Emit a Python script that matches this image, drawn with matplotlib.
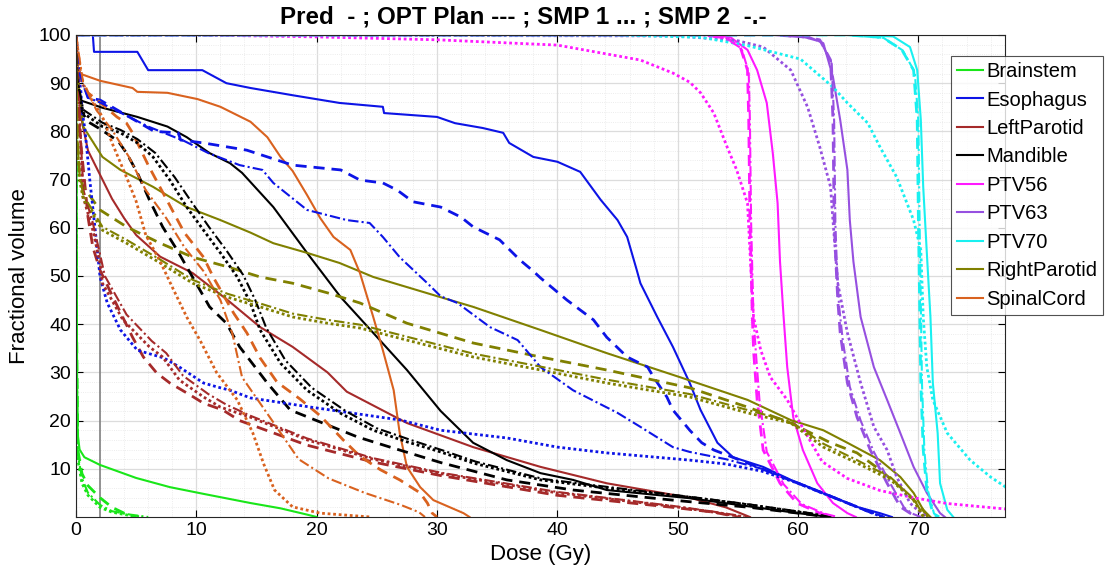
import matplotlib
matplotlib.use("Agg")
import matplotlib.pyplot as plt
from matplotlib.ticker import MultipleLocator

plt.rcParams['font.family'] = ['Liberation Sans', 'DejaVu Sans']

# DVH points (dose Gy, fractional volume %)
# Pred = solid, OPT = dashed, SMP1 = dotted, SMP2 = dash-dot
brainstem_pred = [(0, 100), (0.05, 60), (0.1, 25), (0.15, 17), (0.3, 14), (0.7, 12.4), (2, 10.8), (5, 8.1),
                  (7.8, 6.2), (10.6, 4.8), (14.5, 2.9), (17, 1.8), (19.2, 0.5), (20, 0)]
brainstem_opt = [(0, 100), (0.05, 40), (0.15, 14), (0.5, 9), (1, 6.5), (2, 4), (3, 2), (4, 0.8), (5, 0)]
brainstem_smp1 = [(0, 100), (0.05, 30), (0.15, 12), (0.5, 7), (1, 4.5), (2, 2), (3, 1), (4.5, 0.3), (5.5, 0)]
brainstem_smp2 = [(0, 100), (0.05, 35), (0.15, 13), (0.5, 8), (1, 5), (2, 2.5), (3, 1.2), (4.5, 0.5), (6, 0)]

esophagus_pred = [(1.4, 100), (1.5, 96.5), (5.1, 96.5), (6, 92.7), (10.5, 92.7), (12.5, 90), (14.5, 89),
                  (18, 87.5), (21.9, 85.9), (25.5, 85.1), (25.6, 83.8), (30, 83), (31.5, 81.7), (33.8, 80.7),
                  (35.5, 79.7), (36, 77.6), (38, 74.7), (40, 73.7), (41.9, 71.6), (43.6, 65.8), (45, 61.6),
                  (45.8, 58.1), (46.6, 51.2), (46.9, 48.5), (48.3, 41.5), (49.6, 35.3), (51, 27.8), (51.9, 22.2),
                  (53.3, 15.4), (54.6, 12.4), (57.1, 10.4), (59.4, 7.7), (62.1, 5), (64.9, 2.1), (66.8, 0.8),
                  (67.8, 0)]
esophagus_opt = [(0, 100), (0.3, 92), (1, 87), (2, 86.5), (6.5, 80), (8.5, 79.7), (8.7, 78.2), (10.6, 77.6),
                 (14.2, 76.1), (18, 73), (22, 72), (23.6, 69.9), (25.5, 69.3), (26.7, 67.8), (28, 65.4),
                 (30.3, 64.3), (32, 62.2), (33, 60.2), (35.2, 57.5), (36.9, 53.3), (38, 51), (38.6, 49.6),
                 (40.8, 45), (43, 40.9), (44.1, 37.3), (45.8, 33.2), (47.5, 31.1), (48, 29), (49.1, 24.9),
                 (49.6, 22.2), (50.5, 19.5), (51, 18), (52, 15.4), (53, 13.9), (55.8, 11.2), (58, 9), (61, 6),
                 (64, 3), (66, 1), (67, 0)]
esophagus_smp1 = [(0, 100), (0.2, 92), (0.4, 88.6), (0.5, 84.4), (0.75, 80.3), (1.15, 69.9), (1.6, 59.5),
                  (2, 49.8), (2.6, 44.4), (3.7, 38.8), (5.1, 34.6), (7.3, 33), (8.6, 31.1), (10.6, 27.8),
                  (11.7, 27), (12.8, 26.3), (14.5, 24.7), (19.5, 22.8), (27, 20.1), (30.3, 18), (35.8, 16.4),
                  (40, 14.5), (44.1, 13.3), (51, 11.8), (54, 11), (57, 9.5), (60, 7), (63, 4), (65.5, 1.5),
                  (67, 0)]
esophagus_smp2 = [(0, 100), (0.3, 92), (1, 87), (2, 86), (6, 81), (9, 78), (11, 75.5), (13.6, 73), (15.5, 72),
                  (16.4, 69.3), (19.2, 63.7), (22.5, 61.6), (24.4, 61), (25.5, 58.1), (26.9, 53.9), (29.2, 48.5),
                  (30.3, 45.8), (31.7, 44.4), (34.4, 39.4), (36.7, 36.7), (38.6, 31.1), (41.3, 26.3), (45, 21.6),
                  (46.9, 18.7), (49.6, 14.5), (51, 13.5), (54, 12), (57, 10), (60, 7), (63, 4), (65.5, 1.5),
                  (67.2, 0)]

leftparotid_pred = [(0, 100), (0.2, 90), (0.5, 82), (1, 76), (2, 71), (3, 66), (4, 62), (5, 58.5), (7, 54),
                    (9.7, 50.6), (12.6, 45), (15.3, 39.4), (18, 35.3), (20.9, 30), (22.5, 26), (27.5, 19.5),
                    (33, 14.5), (38.6, 10.4), (44.1, 7), (51, 4), (54, 2), (56, 0)]
leftparotid_opt = [(0, 100), (0.3, 80), (0.7, 70), (1, 62.2), (1.4, 56), (2, 51.2), (3, 46), (4.7, 37.3),
                   (5.6, 33.2), (6.7, 29.9), (7.8, 27.8), (9.5, 25.3), (10.6, 23.6), (12.2, 22.2), (13.6, 20),
                   (19.2, 14.9), (24.7, 11.4), (30.3, 8.6), (40, 4.5), (49.6, 2), (53, 1), (55, 0)]
leftparotid_smp1 = [(0, 100), (0.3, 82), (0.6, 66.4), (1.4, 59.5), (2, 52.7), (2.2, 48.5), (3.9, 40.9),
                    (6.1, 35.3), (7.2, 33.2), (8.6, 28.4), (10.6, 24.9), (12, 22.8), (14.5, 20.7), (19.2, 16),
                    (24.7, 12), (30.3, 9), (40, 5), (49.6, 2.2), (53, 1), (55.5, 0)]
leftparotid_smp2 = [(0, 100), (0.3, 84), (0.6, 68), (1.4, 61), (2, 54.5), (2.4, 50), (4.2, 42), (6.3, 36.5),
                    (7.5, 34), (8.9, 29.3), (11, 25.5), (12.5, 23.3), (14.5, 21), (19.2, 16.3), (24.7, 12.2),
                    (30.3, 9.2), (40, 5.2), (49.6, 2.3), (53, 1.1), (55.8, 0)]

mandible_pred = [(0, 100), (0.1, 92), (0.3, 86.5), (2.2, 84.9), (5.1, 83), (7.6, 81), (9.2, 78.8), (11.1, 75.5),
                 (12.8, 73.4), (13.8, 71.4), (16.4, 64.3), (19.2, 54.8), (22, 45.6), (24.7, 38.2), (27.5, 30.5),
                 (30.3, 22), (33, 15.4), (35.8, 11.8), (38.6, 9.1), (41.3, 7.7), (44.1, 5.6), (51, 3.9),
                 (60, 0.8), (62.7, 0)]
mandible_opt = [(0, 100), (0.2, 90), (0.5, 84), (1, 82), (2, 80.5), (3.5, 78), (4.2, 75.5), (5.1, 71.4),
                (6.1, 65.8), (7.2, 60.2), (8.4, 55.4), (9.5, 50.6), (11.1, 43.6), (12.5, 40.2), (13.6, 35.3),
                (15.9, 27.8), (17.8, 22.2), (20.5, 19.5), (23.4, 16.6), (26.1, 14.5), (30.3, 11.3), (35.8, 7.7),
                (41.3, 5.6), (49.6, 3.5), (56, 2), (61, 0.5), (62.5, 0)]
mandible_smp1 = [(0, 100), (0.1, 90), (0.6, 83.8), (2.2, 81), (3.7, 79.7), (5.1, 77.6), (6.4, 74.7), (7.8, 69.9),
                 (9.2, 64.3), (10.6, 59.5), (12, 54.8), (13.4, 49.8), (14.5, 44.4), (15.3, 38.8), (17, 31.9),
                 (19.2, 26.3), (22, 21.5), (24.7, 18), (27.5, 15.6), (30.3, 13.5), (33, 11.2), (38.6, 7.7),
                 (44.1, 6), (51, 4.1), (56, 2.5), (61, 0.7), (62.5, 0)]
mandible_smp2 = [(0, 100), (0.1, 91), (0.6, 84.5), (2.2, 81.8), (3.7, 80.3), (5.1, 78.4), (6.6, 75.5), (8.2, 70.5),
                 (9.7, 65), (11.1, 60), (12.5, 55.3), (13.9, 50.2), (14.9, 45), (15.8, 39.3), (17.4, 32.5),
                 (19.6, 26.8), (22.4, 22), (25, 18.4), (27.8, 16), (30.5, 13.8), (33.2, 11.5), (38.8, 7.9),
                 (44.3, 6.2), (51, 4.2), (56, 2.6), (61, 0.8), (62.7, 0)]

ptv56_pred = [(0, 100), (53, 100), (54.4, 99.5), (55.8, 96.9), (56.6, 92.7), (57.4, 85.9), (57.9, 75.5),
              (58.3, 65.1), (58.5, 53), (58.8, 41.5), (59.1, 31.1), (59.6, 20.7), (60.4, 13.9), (61.6, 7),
              (62.9, 2.9), (64.1, 0.8), (64.8, 0)]
ptv56_opt = [(0, 100), (52, 100), (54, 99.5), (55.2, 97.5), (55.8, 92.7), (55.9, 82.4), (56, 61.6), (56.2, 41.5),
             (56.3, 34.6), (56.6, 24.3), (57.1, 13.9), (58.5, 7), (59.9, 2.9), (61.8, 0.8), (63, 0)]
ptv56_smp1 = [(0, 100), (10, 100), (20, 99.6), (30, 99), (40, 97.9), (46.9, 94.8), (49.6, 92.1), (51, 90.2),
              (51.9, 88), (53, 83.8), (54.1, 76.8), (54.9, 72), (55.8, 65.1), (56, 55.4), (56.3, 41.5),
              (56.9, 34.6), (57.7, 29), (59.1, 24.3), (60.5, 18), (62, 11.5), (64.1, 8), (66.8, 5.5),
              (69.6, 4), (72.4, 2.8), (77.5, 1.6)]
ptv56_smp2 = [(0, 100), (52, 100), (54, 99.3), (55.3, 97.2), (55.9, 92.3), (56, 82), (56.1, 61), (56.3, 41),
              (56.5, 34), (56.8, 24), (57.4, 13.5), (58.8, 6.8), (60.3, 2.7), (62.2, 0.7), (63.3, 0)]

ptv63_pred = [(0, 100), (59, 100), (60.8, 99.7), (62.1, 98.3), (62.9, 91.3), (63.5, 82.4), (64.1, 72),
              (64.3, 61.6), (64.6, 53), (65.2, 41.5), (66.3, 31.1), (67.4, 24.3), (68.5, 17.4), (69.6, 10.4),
              (70.7, 5), (71.8, 0.8), (72.2, 0)]
ptv63_opt = [(0, 100), (58, 100), (60.5, 99.6), (61.8, 99), (62.7, 94.8), (62.9, 82.4), (63, 61.6), (63.1, 55),
             (63.3, 45), (63.5, 38.2), (64.1, 27.8), (64.9, 20.7), (66, 13.9), (67.4, 7), (68.5, 2.1),
             (69.3, 0.8), (70, 0)]
ptv63_smp1 = [(0, 100), (50, 99.8), (55, 98.8), (57.1, 97.5), (59.4, 92.7), (60.8, 85), (61.8, 76.8),
              (62.7, 68.5), (62.9, 61.6), (63.3, 48.5), (64.1, 38.2), (65.2, 27.8), (66.3, 18.7), (67.4, 13.9),
              (68.2, 8.3), (69.3, 2.9), (70.2, 0.8), (70.8, 0)]
ptv63_smp2 = [(0, 100), (58, 100), (60.6, 99.5), (61.9, 98.6), (62.8, 94), (63, 82), (63.1, 61), (63.2, 54),
              (63.4, 44), (63.7, 37), (64.3, 27), (65.2, 20), (66.3, 13.5), (67.7, 6.8), (68.8, 2),
              (69.5, 0.7), (70.2, 0)]

ptv70_pred = [(0, 100), (65, 100), (67.9, 99.7), (69.3, 97.5), (69.9, 92.7), (70.2, 82.4), (70.4, 68.5),
              (70.7, 54.8), (71, 41.5), (71.2, 27.8), (71.6, 17.4), (71.8, 7), (72.4, 1.5), (72.9, 0)]
ptv70_opt = [(0, 100), (64, 100), (67, 99.5), (68.6, 97), (69.6, 92.7), (69.9, 82.4), (70, 61.6), (70.2, 27.8),
             (70.4, 13.9), (70.7, 5.6), (71.2, 0.8), (71.6, 0)]
ptv70_smp1 = [(0, 100), (45, 100), (52, 99.5), (55.8, 97.8), (60.2, 95), (62.9, 89.2), (64.1, 85.9),
              (65.8, 81.7), (66.8, 76.8), (68.2, 70.5), (69.6, 61.6), (70.2, 55.4), (70.4, 41.5), (70.7, 31.1),
              (71.2, 24.3), (72.4, 17.4), (74.3, 11.8), (76, 8.3), (77.5, 5.8)]
ptv70_smp2 = [(0, 100), (64, 100), (67.1, 99.4), (68.7, 96.8), (69.7, 92.3), (70, 82), (70.1, 61), (70.3, 27.5),
              (70.5, 13.6), (70.8, 5.4), (71.3, 0.7), (71.8, 0)]

rightparotid_pred = [(0, 100), (0.2, 90), (0.6, 81), (2.2, 74.7), (3.7, 72), (6.4, 68.5), (9.2, 64.3),
                     (12, 61.6), (14.5, 59), (16.4, 56.8), (19.2, 54.8), (21.9, 52.7), (24.7, 49.8), (27.5, 47.7),
                     (30.3, 45.6), (33, 43.6), (38.6, 38.8), (44.1, 34), (50.2, 29), (55.8, 24.3), (59.4, 20.1),
                     (62.1, 18), (64.1, 15.4), (66.8, 11.8), (68.5, 8.3), (69.6, 5), (70.4, 1.5), (71, 0)]
rightparotid_opt = [(0, 100), (0.1, 80), (0.3, 70.5), (0.6, 68.5), (2, 63.7), (4.2, 60.2), (7, 56.8),
                    (9.7, 53.9), (12.6, 51.9), (15.3, 49.8), (18, 48.5), (20.9, 46.5), (23.6, 44.4), (27.5, 40.2),
                    (33, 36.1), (38.6, 33.2), (44.1, 30.5), (51, 26.8), (55.8, 22.8), (59.4, 19.5), (62.7, 15.4),
                    (64.9, 13.3), (66.8, 9.8), (68.5, 6.2), (70.2, 2.1), (70.8, 0)]
rightparotid_smp1 = [(0, 100), (0.1, 78), (0.3, 70), (0.6, 66), (2.2, 59.5), (4.2, 56.8), (7, 52.7), (9.7, 48.5),
                     (12.6, 45.6), (15.3, 43.6), (18, 41.5), (20.9, 40.2), (23.6, 39.2), (27.5, 36.7), (33, 33.2),
                     (38.6, 30.5), (44.1, 27.8), (51, 24.9), (55.8, 21.6), (59.4, 19.5), (62.1, 14.5),
                     (64.9, 11.2), (67.7, 7.7), (69.6, 3.5), (70.4, 0)]
rightparotid_smp2 = [(0, 100), (0.1, 79), (0.3, 71), (0.6, 66.8), (2.2, 60.2), (4.2, 57.5), (7, 53.4),
                     (9.7, 49.2), (12.6, 46.3), (15.3, 44.3), (18, 42.2), (20.9, 40.9), (23.6, 39.9), (27.5, 37.4),
                     (33, 33.9), (38.6, 31.2), (44.1, 28.5), (51, 25.5), (55.8, 22.2), (59.4, 19.8), (62.1, 15.2),
                     (64.9, 11.8), (67.7, 8.2), (69.6, 3.8), (70.5, 0)]

spinalcord_pred = [(0, 100), (0.1, 93), (0.3, 92), (2, 90.5), (4.7, 89), (5.1, 88.2), (7.6, 88), (10.1, 86.7),
                   (12, 85.1), (14.5, 82), (15.9, 78.8), (17, 74.7), (18, 71.8), (19.2, 66.8), (20.3, 62),
                   (21.4, 58.1), (22.8, 55.4), (23.6, 50.6), (24.7, 41.5), (25.5, 34.6), (26.4, 26.3),
                   (26.9, 17.4), (27.5, 10.4), (28.6, 6.2), (29.7, 3.5), (32.2, 0.8), (32.7, 0)]
spinalcord_opt = [(0, 100), (0.3, 92), (1, 88), (2, 86), (3.4, 83), (4.2, 81.7), (4.7, 79.7), (6, 73),
                  (7.5, 66), (9, 59), (10.6, 53.9), (11.4, 49.8), (13.1, 42.3), (14.2, 38.2), (15.3, 33),
                  (16.7, 28), (18.6, 24.5), (20.3, 21), (22.2, 16), (23.6, 12.6), (25.3, 9.8), (26.9, 7.7),
                  (28.6, 5), (29.2, 2.9), (29.6, 0.8), (30, 0)]
spinalcord_smp1 = [(0, 100), (0.5, 90), (1.2, 87), (2.2, 83), (3, 77.6), (4.2, 70.5), (5, 65.5), (5.8, 58.5),
                   (7, 53), (8, 47.7), (9.2, 41.5), (10.3, 36.7), (11.7, 29.9), (13.4, 24.3), (14.7, 17.4),
                   (15.6, 11), (16.5, 5.6), (18, 2.1), (20.3, 0.8), (24.5, 0)]
spinalcord_smp2 = [(0, 100), (0.6, 90), (1.7, 84.4), (3, 80.3), (4.4, 74.7), (5.8, 67.8), (7.5, 62),
                   (9, 56), (10.6, 51), (12, 45), (13, 38), (13.8, 29), (16.3, 20), (18.5, 12), (21, 8),
                   (24, 5), (27, 2.5), (28.5, 1), (29, 0)]

names = ["Brainstem", "Esophagus", "LeftParotid", "Mandible", "PTV56", "PTV63", "PTV70",
         "RightParotid", "SpinalCord"]
colors = ["#19e619", "#0d14e6", "#a52a2a", "#000000", "#ff19ff", "#9650e0", "#19f0f0",
          "#808000", "#d9621f"]
curves = [
    [brainstem_pred, brainstem_opt, brainstem_smp1, brainstem_smp2],
    [esophagus_pred, esophagus_opt, esophagus_smp1, esophagus_smp2],
    [leftparotid_pred, leftparotid_opt, leftparotid_smp1, leftparotid_smp2],
    [mandible_pred, mandible_opt, mandible_smp1, mandible_smp2],
    [ptv56_pred, ptv56_opt, ptv56_smp1, ptv56_smp2],
    [ptv63_pred, ptv63_opt, ptv63_smp1, ptv63_smp2],
    [ptv70_pred, ptv70_opt, ptv70_smp1, ptv70_smp2],
    [rightparotid_pred, rightparotid_opt, rightparotid_smp1, rightparotid_smp2],
    [spinalcord_pred, spinalcord_opt, spinalcord_smp1, spinalcord_smp2],
]
styles = [("-", 1.5), ((0, (4, 2.5)), 2.0), ((0, (1, 1)), 2.0), ((0, (5, 1.5, 1, 1.5)), 1.5)]

fig = plt.figure(figsize=(11.14, 5.8), dpi=100)
ax = fig.add_axes([0.0682, 0.1086, 0.8340, 0.8311])

# vertical reference line at 2 Gy
ax.axvline(2, color="#808080", lw=1.2, zorder=1)

for k, (ls, lw) in enumerate(styles):
    for name, col, sets in zip(names, colors, curves):
        pts = sets[k]
        ax.plot([p[0] for p in pts], [p[1] for p in pts], color=col, ls=ls, lw=lw,
                label=name if k == 0 else None, zorder=2)

ax.set_xlim(0, 77.2)
ax.set_ylim(0, 100)
ax.set_xticks(range(0, 71, 10))
ax.set_yticks(range(10, 101, 10))
ax.xaxis.set_minor_locator(MultipleLocator(2))
ax.yaxis.set_minor_locator(MultipleLocator(2))
ax.grid(which="major", color="#dcdcdc", lw=0.9)
ax.grid(which="minor", color="#e6e6e6", lw=0.6, ls=":")
ax.set_axisbelow(True)
ax.tick_params(which="both", direction="in", top=True, right=True, labelsize=14, length=5)
ax.tick_params(which="minor", length=0)
for s in ax.spines.values():
    s.set_color("#262626")
    s.set_linewidth(0.8)

ax.set_xlabel("Dose (Gy)", fontsize=16, labelpad=4)
ax.set_ylabel("Fractional volume", fontsize=16, labelpad=6)
ax.set_title("Pred  - ; OPT Plan --- ; SMP 1 ... ; SMP 2  -.-", fontsize=17.4, fontweight="bold",
             pad=8, x=0.482)

leg = fig.legend(loc="upper left", bbox_to_anchor=(0.8537, 0.9034), fontsize=14.5, frameon=True,
                 fancybox=False, edgecolor="#262626", handlelength=1.3, handletextpad=0.15,
                 labelspacing=0.47, borderpad=0.3, borderaxespad=0)
leg.get_frame().set_linewidth(0.8)

fig.savefig("out.png", dpi=100)
